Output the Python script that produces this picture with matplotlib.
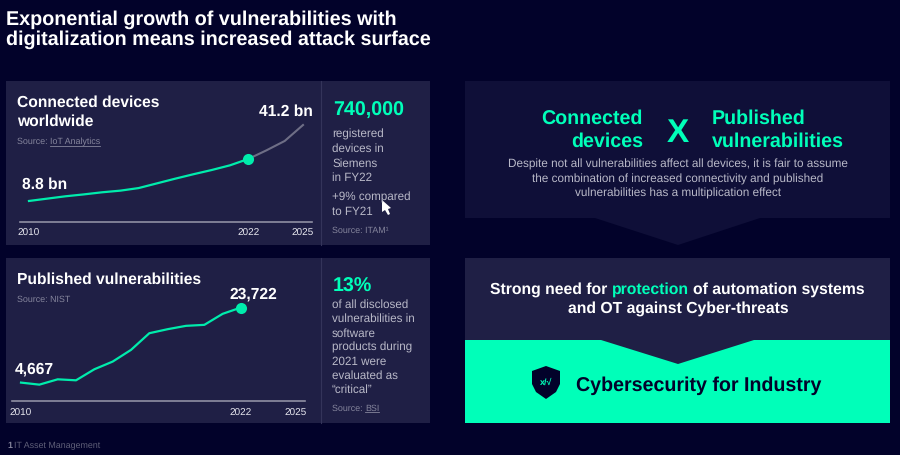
import matplotlib
matplotlib.use("Agg")
import matplotlib.pyplot as plt
from matplotlib.patches import Polygon, Rectangle

plt.rcParams['font.family'] = ['Liberation Sans', 'DejaVu Sans']
plt.rcParams['text.hinting'] = 'no_hinting'

BG = '#02022a'
PANEL = '#1f1f45'
PANEL_DARK = '#0f0f38'
GREEN = '#00ffb9'
LINE_GREEN = '#00ecac'
GREY = '#b9b9c8'
SOURCE = '#85859c'

# data
device_years = [2010, 2011, 2012, 2013, 2014, 2015, 2016, 2017, 2018, 2019, 2020, 2021, 2022]
device_values = [8.8, 9.8, 10.8, 11.6, 12.5, 13.2, 14.3, 16.3, 18.3, 20.2, 22.0, 24.0, 26.7]
forecast_years = [2022, 2023, 2024, 2025]
forecast_values = [26.7, 30.4, 34.4, 41.2]

vuln_years = [2010, 2011, 2012, 2013, 2014, 2015, 2016, 2017, 2018, 2019, 2020, 2021, 2022]
vuln_values = [4667, 4150, 5500, 5250, 8050, 10000, 12970, 17200, 18220, 19070, 19320, 22120, 23722]

year_ticks = [2010, 2022, 2025]

W, H = 900, 455
fig = plt.figure(figsize=(W / 100, H / 100), dpi=100, facecolor=BG)

bg = fig.add_axes([0, 0, 1, 1])
bg.set_xlim(0, W)
bg.set_ylim(H, 0)
bg.axis('off')


def box(x0, y0, x1, y1, color):
    bg.add_patch(Rectangle((x0, y0), x1 - x0, y1 - y0, fc=color, ec='none'))


def label(x, y, s, color='white', size=11.25, bold=True, ha='left'):
    # y is the text baseline in pixels
    bg.text(x, y, s, color=color, fontsize=size, fontweight='bold' if bold else 'normal',
            va='baseline', ha=ha)


def chart_axes(x0, x1, y_base, y_top):
    ax = fig.add_axes([x0 / W, 1 - y_base / H, (x1 - x0) / W, (y_base - y_top) / H])
    ax.patch.set_alpha(0)
    for s in ['top', 'left', 'right']:
        ax.spines[s].set_visible(False)
    ax.spines['bottom'].set_color('#8f8fa3')
    ax.spines['bottom'].set_linewidth(1.2)
    ax.set_yticks([])
    ax.set_xticks(year_ticks)
    ax.tick_params(axis='x', length=0, pad=5.3, labelsize=7.2, labelcolor='#e6e6ee')
    return ax


# title
label(6, 25, 'Exponential growth of vulnerabilities with', size=14.2)
label(6, 45, 'digitalization means increased attack surface', size=14.2)

# left panels
box(6, 81, 430, 245, PANEL)
box(6, 258, 430, 423, PANEL)
bg.plot([321, 321], [81, 245], color='#34345a', lw=0.8)
bg.plot([321, 321], [258, 423], color='#34345a', lw=0.8)

# connected devices chart
ax1 = chart_axes(20, 312, 221.6, 110)
ax1.set_xlim(2010 - 9 / 18.27, 2025 + 9 / 18.27)
ax1.set_ylim(0, 47.6)
ax1.plot(forecast_years, forecast_values, color='#6e6e86', lw=1.5)
ax1.plot(device_years, device_values, color=LINE_GREEN, lw=1.6)
ax1.plot(device_years[-1], device_values[-1], 'o', color=LINE_GREEN, ms=8, mec='none')

# vulnerabilities chart
ax2 = chart_axes(12, 305, 401, 280)
ax2.set_xlim(2010 - 9 / 18.3, 2025 + 9 / 18.3)
ax2.set_ylim(0, 30700)
ax2.plot(vuln_years, vuln_values, color=LINE_GREEN, lw=1.6)
ax2.plot(vuln_years[-1], vuln_values[-1], 'o', color=LINE_GREEN, ms=8, mec='none')

# left panel labels
label(17, 106.7, 'Connected devices')
label(17, 126, 'worldwide')
label(17, 144, 'Source: ', SOURCE, 6.4, False)
label(50, 144, 'IoT Analytics', SOURCE, 6.4, False)
bg.plot([50, 100], [145.7, 145.7], color=SOURCE, lw=0.6)
label(22, 189, '8.8 bn')
label(259, 116, '41.2 bn')

label(17, 284, 'Published vulnerabilities')
label(17, 302, 'Source: NIST', SOURCE, 6.4, False)
label(15, 374, '4,667')
label(229, 299, '23,722')

# side columns
label(333, 115.7, '740,000', GREEN, 14.1)
for y, line in zip([138, 152, 167, 181], ['registered', 'devices in', 'Siemens', 'in FY22']):
    label(332, y, line, GREY, 8.4, False)
for y, line in zip([201, 215], ['+9% compared', 'to FY21']):
    label(332, y, line, GREY, 8.4, False)
label(332, 232.7, 'Source: ITAM¹', SOURCE, 6.4, False)
bg.add_patch(Polygon([(382, 200), (382, 212), (385, 210), (388, 215), (390, 214), (388, 209), (391, 208)],
                     fc='white', ec='none'))

label(333, 292, '13%', GREEN, 14.1)
for y, line in zip([308, 322, 337, 351, 365, 379, 393],
                   ['of all disclosed', 'vulnerabilities in', 'software', 'products during',
                    '2021 were', 'evaluated as', '“critical”']):
    label(332, y, line, GREY, 8.4, False)
label(332, 410.7, 'Source: ', SOURCE, 6.4, False)
label(365, 410.7, 'BSI', SOURCE, 6.4, False)
bg.plot([365, 379], [412, 412], color=SOURCE, lw=0.6)

label(7, 448, '1', SOURCE, 6.4)
label(13.5, 448, 'IT Asset Management', '#5f5f78', 6.4, False)

# right top panel with chevron
bg.add_patch(Polygon([(465, 81), (890, 81), (890, 218), (760, 218), (678, 245), (595, 218), (465, 218)],
                     fc=PANEL_DARK, ec='none'))
label(643, 124, 'Connected', GREEN, 14.1, ha='right')
label(643, 147, 'devices', GREEN, 14.1, ha='right')
label(678, 141.7, 'X', GREEN, 24, ha='center')
label(712, 124, 'Published', GREEN, 14.1)
label(712, 147, 'vulnerabilities', GREEN, 14.1)
for y, line in zip([168, 183, 197],
                   ['Despite not all vulnerabilities affect all devices, it is fair to assume',
                    'the combination of increased connectivity and published',
                    'vulnerabilities has a multiplication effect']):
    label(678, y, line, GREY, 8.47, False, ha='center')

# right bottom panel
box(465, 258, 890, 423, PANEL)
bg.add_patch(Polygon([(465, 340), (601, 340), (678, 364), (754, 340), (890, 340), (890, 423), (465, 423)],
                     fc=GREEN, ec='none'))
label(490, 294, 'Strong need for', size=11.35)
label(612, 294, 'protection', GREEN, 11.35)
label(693, 294, 'of automation systems', size=11.35)
label(678, 313, 'and OT against Cyber-threats', size=11.35, ha='center')

# shield icon
bg.add_patch(Polygon([(546, 366), (560, 371), (560, 384), (556, 392), (546, 399), (536, 392), (532, 384), (532, 371)],
                     fc=BG, ec='none'))
label(546, 385, 'x/√', GREEN, 6.5, ha='center')
label(576, 390.7, 'Cybersecurity for Industry', BG, 14.15)

fig.savefig('out.png', dpi=100, facecolor=BG)
